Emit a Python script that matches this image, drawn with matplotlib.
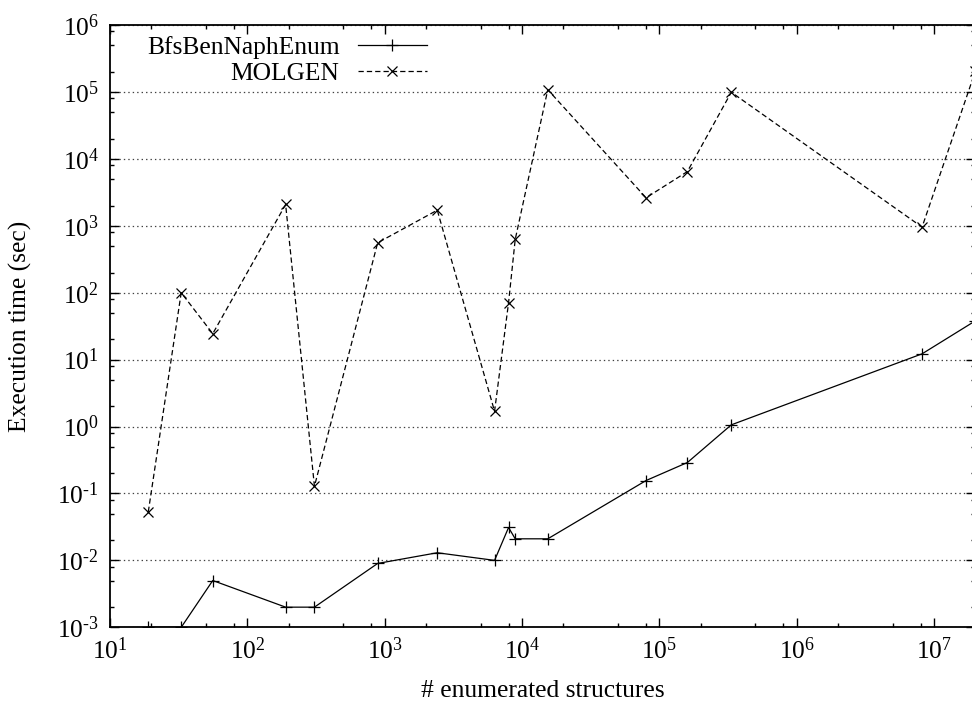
import matplotlib
matplotlib.use("Agg")
import matplotlib.pyplot as plt
from matplotlib.ticker import LogLocator, NullFormatter, FuncFormatter
import numpy as np

plt.rcParams['font.family'] = ['Liberation Serif', 'DejaVu Serif']
plt.rcParams['mathtext.fontset'] = 'custom'
plt.rcParams['mathtext.rm'] = 'Liberation Serif'
plt.rcParams['mathtext.it'] = 'Liberation Serif:italic'
plt.rcParams['mathtext.bf'] = 'Liberation Serif:bold'
plt.rcParams['lines.scale_dashes'] = False

# data
structures = [19, 33, 56, 190, 308, 889, 2415, 6310, 7980, 8920, 15400,
              80000, 160000, 334000, 8180000, 2.0e7]
bfs_time = [0.001, 0.001, 0.005, 0.002, 0.002, 0.009, 0.013, 0.010, 0.031,
            0.021, 0.021, 0.156, 0.29, 1.06, 12.2, 38.0]
molgen_time = [0.053, 100, 24.4, 2080, 0.128, 557, 1710, 1.69, 71, 625,
               108000, 2620, 6460, 99000, 955, 205000]
series_labels = ["BfsBenNaphEnum", "MOLGEN"]

FS = 18.4
W, H = 972, 702
fig = plt.figure(figsize=(W / 100, H / 100), dpi=100)
left, right, top, bottom = 110, 975.4, 25, 627.3
ax = fig.add_axes([left / W, 1 - bottom / H, (right - left) / W, (bottom - top) / H])

ax.plot(structures, bfs_time, color='black', lw=0.9, marker='+', ms=8,
        mew=0.9, label=series_labels[0])
ax.plot(structures, molgen_time, color='black', lw=0.9, marker='x', ms=7,
        mew=0.9, dashes=(3.8, 2.2), label=series_labels[1])

ax.set_xscale('log')
ax.set_yscale('log')
ax.set_xlim(10, 2.0e7)
ax.set_ylim(1e-3, 1e6)


def pow_fmt(v, pos):
    e = int(round(np.log10(v)))
    if e < 0:
        return r"$10^{\text{-}%d}$" % (-e)
    return r"$10^{%d}$" % e


ax.xaxis.set_major_locator(LogLocator(base=10, numticks=20))
ax.yaxis.set_major_locator(LogLocator(base=10, numticks=20))
ax.xaxis.set_major_formatter(FuncFormatter(pow_fmt))
ax.yaxis.set_major_formatter(FuncFormatter(pow_fmt))
ax.xaxis.set_minor_locator(LogLocator(base=10, subs=(2, 5, 8), numticks=20))
ax.yaxis.set_minor_locator(LogLocator(base=10, subs=(2, 5, 8), numticks=20))
ax.xaxis.set_minor_formatter(NullFormatter())
ax.yaxis.set_minor_formatter(NullFormatter())

ax.tick_params(which='both', direction='in', top=True, right=True, width=1.0)
ax.tick_params(which='major', length=6.5, labelsize=FS)
ax.tick_params(axis='x', which='major', pad=7)
ax.tick_params(axis='y', which='major', pad=8)
ax.tick_params(which='minor', length=3)
for s in ax.spines.values():
    s.set_linewidth(1.3)

ax.yaxis.grid(True, which='major', linestyle=(0, (1, 2.2)), color='0.25', lw=0.9)
ax.xaxis.grid(False)

ax.set_xlabel("# enumerated structures", fontsize=FS)
ax.set_ylabel("Execution time (sec)", fontsize=FS)
ax.xaxis.set_label_coords(0.5, -0.087)
ax.yaxis.set_label_coords(-0.090, 0.5)

leg = ax.legend(loc='upper left', bbox_to_anchor=((147 - left) / (right - left), 1 - (36 - top) / (bottom - top)),
                frameon=False, markerfirst=False, fontsize=FS, handlelength=2.7,
                handletextpad=0.7, labelspacing=0.12, borderpad=0, borderaxespad=0,
                numpoints=1)

fig.savefig("out.png", dpi=100)
